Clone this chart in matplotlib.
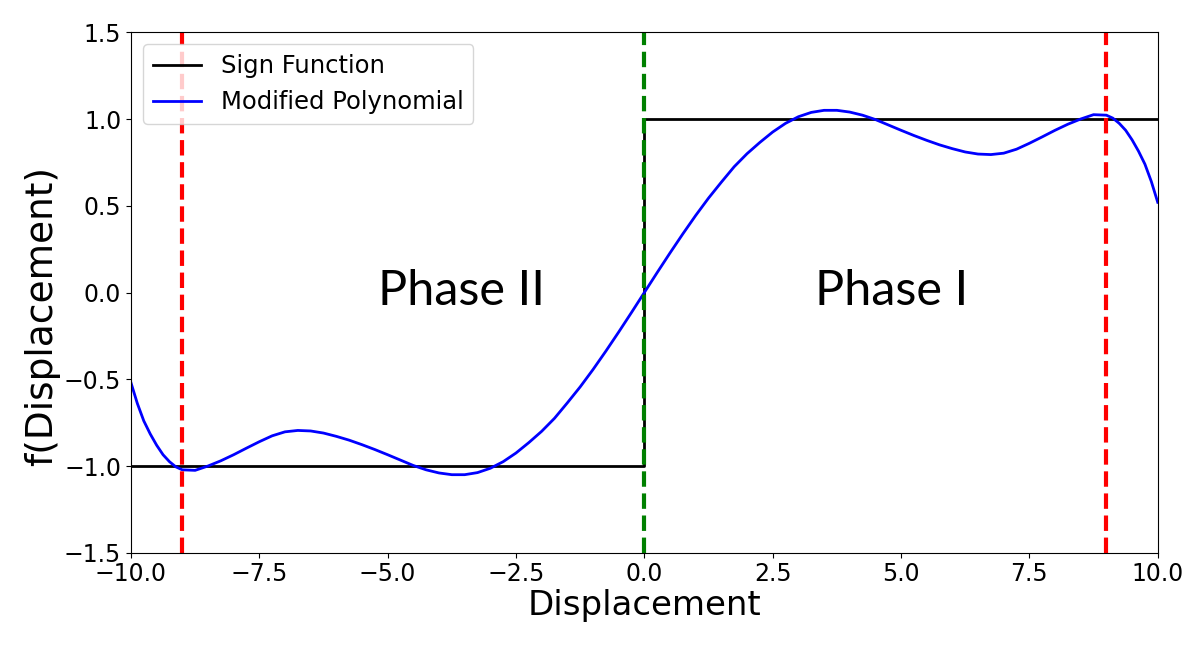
import numpy as np
import matplotlib.pyplot as plt

# sign function corners
sign_x = [-10.0, 0.0, 0.0, 10.0]
sign_y = [-1.0, -1.0, 1.0, 1.0]

# modified polynomial
poly_x = [-10.0, -9.875, -9.75, -9.625, -9.5, -9.375, -9.25, -9.125, -9.0,
          -8.75, -8.5, -8.25, -8.0, -7.75, -7.5, -7.25, -7.0, -6.75, -6.5,
          -6.25, -6.0, -5.75, -5.5, -5.25, -5.0, -4.75, -4.5, -4.25, -4.0,
          -3.75, -3.5, -3.25, -3.0, -2.75, -2.5, -2.25, -2.0, -1.75, -1.5,
          -1.25, -1.0, -0.75, -0.5, -0.25,
          0.0, 0.25, 0.5, 0.75, 1.0, 1.25, 1.5, 1.75, 2.0, 2.25,
          2.5, 2.75, 3.0, 3.25, 3.5, 3.75, 4.0, 4.25, 4.5, 4.75,
          5.0, 5.25, 5.5, 5.75, 6.0, 6.25, 6.5, 6.75, 7.0, 7.25,
          7.5, 7.75, 8.0, 8.25, 8.5, 8.75, 9.0, 9.125, 9.25, 9.375,
          9.5, 9.625, 9.75, 9.875, 10.0]
poly_y = [-0.52, -0.64, -0.74, -0.815, -0.88, -0.935, -0.975, -1.005, -1.022,
          -1.025, -1.0, -0.97, -0.935, -0.897, -0.86, -0.826, -0.803, -0.795, -0.798,
          -0.81, -0.829, -0.851, -0.877, -0.905, -0.935, -0.966, -0.997, -1.022, -1.04,
          -1.05, -1.05, -1.038, -1.013, -0.975, -0.925, -0.865, -0.80, -0.725, -0.636,
          -0.544, -0.444, -0.338, -0.228, -0.115,
          0.0, 0.115, 0.228, 0.338, 0.444, 0.544, 0.636, 0.725, 0.80, 0.865,
          0.925, 0.975, 1.013, 1.038, 1.05, 1.05, 1.04, 1.022, 0.997, 0.966,
          0.935, 0.905, 0.877, 0.851, 0.829, 0.81, 0.798, 0.795, 0.803, 0.826,
          0.86, 0.897, 0.935, 0.97, 1.0, 1.025, 1.022, 1.005, 0.975, 0.935,
          0.88, 0.815, 0.74, 0.64, 0.52]

bound_x = [-9.0, 9.0]   # red dashed limits
centre_x = 0.0          # green dashed line

phase_labels = ["Phase II", "Phase I"]
phase_x = [-3.57, 4.81]
phase_y = [0.01, 0.01]

fig = plt.figure(figsize=(11.96, 6.45), dpi=100)
ax = fig.add_axes([0.1095, 0.143, 0.8585, 0.807])

ax.plot(sign_x, sign_y, color="black", lw=2, label="Sign Function")
ax.plot(poly_x, poly_y, color="blue", lw=2, label="Modified Polynomial")
for bx in bound_x:
    ax.axvline(bx, color="red", ls="--", lw=3)
ax.axvline(centre_x, color="green", ls="--", lw=3)

for lab, px, py in zip(phase_labels, phase_x, phase_y):
    ax.text(px, py, lab, fontsize=35, family="Lato", ha="center", va="center")

ax.set_xlim(-10, 10)
ax.set_ylim(-1.5, 1.5)
ax.set_xticks(np.arange(-10, 10.1, 2.5))
ax.set_yticks(np.arange(-1.5, 1.6, 0.5))
ax.tick_params(labelsize=17)
ax.set_xlabel("Displacement", fontsize=24.5, labelpad=2)
ax.set_ylabel("f(Displacement)", fontsize=27)
ax.yaxis.set_label_coords(-0.069, 0.455)
ax.legend(loc="upper left", fontsize=17.5)

fig.savefig("out.png", dpi=100)
